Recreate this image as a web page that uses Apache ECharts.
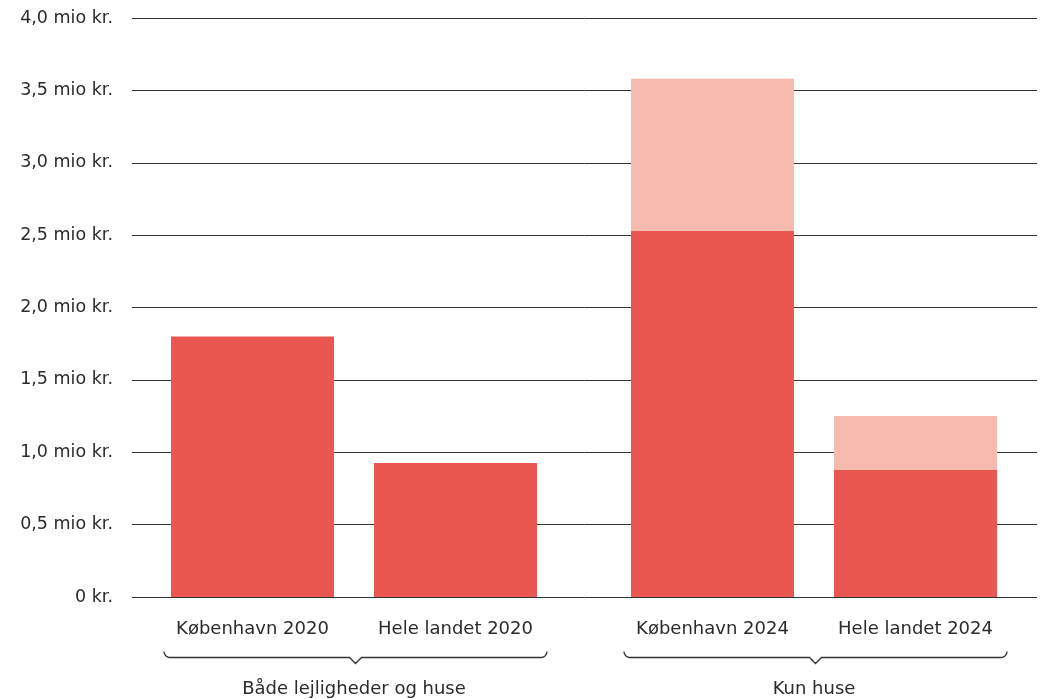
<!DOCTYPE html>
<html>
<head>
<meta charset="utf-8">
<script src="https://cdn.jsdelivr.net/npm/echarts@6/dist/echarts.min.js"></script>
<style>
html,body{margin:0;padding:0;background:#fff;}
#c{width:1044px;height:699px;}
</style>
</head>
<body>
<div id="c"></div>
<script>
// ---- data ----
var group1Categories = ['København 2020', 'Hele landet 2020'];
var group2Categories = ['København 2024', 'Hele landet 2024'];
var groupLabels = ['Både lejligheder og huse', 'Kun huse'];
var group1Values = [1.80, 0.925];
var group2Base = [2.53, 0.877];
var group2Total = [3.58, 1.25];
var yTicks = [0, 0.5, 1, 1.5, 2, 2.5, 3, 3.5, 4];

var group2Extra = group2Total.map(function (t, i) { return +(t - group2Base[i]).toFixed(3); });

function fmt(v) {
  if (v === 0) return '0 kr.';
  return v.toFixed(1).replace('.', ',') + ' mio kr.';
}

var FONT = '"DejaVu Sans", sans-serif';
var FS = 18;
var TEXT = '#2b2b2b';
var DARK = '#EA5750';
var LIGHT = '#F6BBAE';

var chart = echarts.init(document.getElementById('c'), null, { renderer: 'canvas' });

var TOP = 18, BOTTOM = 102;
var g1Left = 151, g2Left = 611, gW = 406;

var hiddenY = function (idx) {
  return { type: 'value', gridIndex: idx, min: 0, max: 4, interval: 0.5, show: false, splitLine: { show: false } };
};
var catX = function (idx, data) {
  return {
    type: 'category', gridIndex: idx, data: data,
    axisLine: { show: false }, axisTick: { show: false },
    axisLabel: { color: TEXT, fontFamily: FONT, fontSize: FS, margin: 23 }
  };
};
var groupX = function (idx, label) {
  return {
    type: 'category', gridIndex: idx, data: [label], position: 'bottom', offset: 70,
    axisLine: { show: false }, axisTick: { show: false },
    axisLabel: { color: TEXT, fontFamily: FONT, fontSize: FS, margin: 13 }
  };
};

chart.setOption({
  animation: false,
  grid: [
    { left: 132, right: 7, top: TOP, bottom: BOTTOM },
    { left: g1Left, width: gW, top: TOP, bottom: BOTTOM },
    { left: g2Left, width: gW, top: TOP, bottom: BOTTOM }
  ],
  xAxis: [
    { type: 'value', gridIndex: 0, show: false, min: 0, max: 1, splitLine: { show: false } },
    catX(1, group1Categories),
    catX(2, group2Categories),
    groupX(1, groupLabels[0]),
    groupX(2, groupLabels[1])
  ],
  yAxis: [
    {
      type: 'value', gridIndex: 0, min: yTicks[0], max: yTicks[yTicks.length - 1], interval: 0.5,
      axisLine: { show: false }, axisTick: { show: false },
      axisLabel: { color: TEXT, fontFamily: FONT, fontSize: 17.5, margin: 19, formatter: fmt, padding: [3, 0, 0, 0] },
      splitLine: { show: true, lineStyle: { color: '#333', width: 1 } }
    },
    hiddenY(1),
    hiddenY(2)
  ],
  series: [
    { type: 'bar', xAxisIndex: 1, yAxisIndex: 1, data: group1Values, barWidth: 163, itemStyle: { color: DARK }, z: 3 },
    { type: 'bar', xAxisIndex: 2, yAxisIndex: 2, stack: 's2', data: group2Base, barWidth: 163, itemStyle: { color: DARK }, z: 3 },
    { type: 'bar', xAxisIndex: 2, yAxisIndex: 2, stack: 's2', data: group2Extra, barWidth: 163, itemStyle: { color: LIGHT }, z: 3 }
  ]
});

// braces under the category labels
function bracePoints(x1, x2, y) {
  var mid = (x1 + x2) / 2, r = 6, n = 6, pts = [], k, a;
  for (k = 0; k <= 6; k++) {
    a = (k / 6) * (Math.PI / 2);
    pts.push([x1 + r - r * Math.cos(a), y - r + r * Math.sin(a)]);
  }
  pts.push([mid - n, y], [mid, y + n], [mid + n, y]);
  for (k = 6; k >= 0; k--) {
    a = (k / 6) * (Math.PI / 2);
    pts.push([x2 - r + r * Math.cos(a), y - r + r * Math.sin(a)]);
  }
  return pts;
}
var braceY = 657.5;
chart.setOption({
  graphic: [
    { type: 'polyline', shape: { points: bracePoints(g1Left + 13, g1Left + gW - 10, braceY) }, style: { fill: null, stroke: '#333', lineWidth: 1.3 } },
    { type: 'polyline', shape: { points: bracePoints(g2Left + 13, g2Left + gW - 10, braceY) }, style: { fill: null, stroke: '#333', lineWidth: 1.3 } }
  ]
});
</script>
</body>
</html>
